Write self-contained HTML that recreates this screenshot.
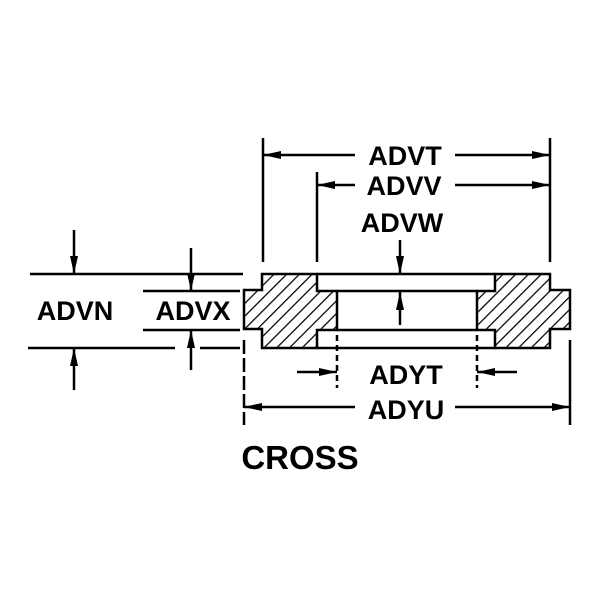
<!DOCTYPE html>
<html><head><style>body{margin:0;background:#fff}</style></head><body>
<svg width="600" height="600" viewBox="0 0 600 600" xmlns="http://www.w3.org/2000/svg">
<defs>
<pattern id="h" patternUnits="userSpaceOnUse" width="9" height="9" patternTransform="rotate(45)">
<rect width="9" height="9" fill="#fff"/><line x1="0" y1="0" x2="0" y2="9" stroke="#000" stroke-width="2.5"/>
</pattern>
<marker id="ar" viewBox="0 0 18 10" markerWidth="18" markerHeight="10" refX="18" refY="5" orient="auto" markerUnits="userSpaceOnUse"><path d="M0,1 L18,5 L0,9 z" fill="#000"/></marker>
</defs>
<g stroke="#000" stroke-width="2.5" fill="none">
<path d="M262,274 L317,274 L317,291 L337,291 L337,330 L317,330 L317,348 L262,348 L262,329 L244,329 L244,290 L262,290 Z" fill="url(#h)"/>
<path d="M495,274 L550,274 L550,290 L570,290 L570,329 L550,329 L550,348 L495,348 L495,330 L477,330 L477,291 L495,291 Z" fill="url(#h)"/>
<line x1="317" y1="274" x2="495" y2="274"/><line x1="337" y1="291" x2="477" y2="291"/>
<line x1="337" y1="330" x2="477" y2="330"/><line x1="317" y1="348" x2="495" y2="348"/>
<line x1="263" y1="138" x2="263" y2="262"/><line x1="550" y1="138" x2="550" y2="262"/>
<line x1="317" y1="172" x2="317" y2="262"/>
<line x1="337" y1="335" x2="337" y2="388" stroke-dasharray="6,4"/><line x1="477" y1="335" x2="477" y2="388" stroke-dasharray="6,4"/>
<line x1="244" y1="340" x2="244" y2="425" stroke-dasharray="14,4"/><line x1="570" y1="340" x2="570" y2="425"/>
<line x1="30" y1="274" x2="243" y2="274"/><line x1="28" y1="348" x2="175" y2="348"/><line x1="200" y1="348" x2="240" y2="348"/>
<line x1="143" y1="291" x2="240" y2="291"/><line x1="143" y1="330" x2="240" y2="330"/>
</g>
<g stroke="#000" stroke-width="2.5">
<line x1="355" y1="155" x2="263" y2="155" marker-end="url(#ar)"/>
<line x1="455" y1="155" x2="550" y2="155" marker-end="url(#ar)"/>
<line x1="355" y1="185" x2="317" y2="185" marker-end="url(#ar)"/>
<line x1="455" y1="185" x2="550" y2="185" marker-end="url(#ar)"/>
<line x1="400" y1="240" x2="400" y2="274" marker-end="url(#ar)"/>
<line x1="400" y1="325" x2="400" y2="292" marker-end="url(#ar)"/>
<line x1="297" y1="372" x2="337" y2="372" marker-end="url(#ar)"/>
<line x1="517" y1="372" x2="477" y2="372" marker-end="url(#ar)"/>
<line x1="355" y1="407" x2="244" y2="407" marker-end="url(#ar)"/>
<line x1="455" y1="407" x2="570" y2="407" marker-end="url(#ar)"/>
<line x1="74" y1="230" x2="74" y2="274" marker-end="url(#ar)"/>
<line x1="74" y1="390" x2="74" y2="348" marker-end="url(#ar)"/>
<line x1="191" y1="248" x2="191" y2="291" marker-end="url(#ar)"/>
<line x1="191" y1="370" x2="191" y2="330" marker-end="url(#ar)"/>
</g>
<g font-family="Liberation Sans, sans-serif" font-weight="bold" font-size="27" fill="#000" text-anchor="middle">
<text x="405" y="165">ADVT</text>
<text x="404" y="195">ADVV</text>
<text x="402" y="232">ADVW</text>
<text x="75" y="320">ADVN</text>
<text x="193" y="320">ADVX</text>
<text x="406" y="384">ADYT</text>
<text x="406" y="419">ADYU</text>
<text x="300" y="469" font-size="33">CROSS</text>
</g>
</svg>
</body></html>
